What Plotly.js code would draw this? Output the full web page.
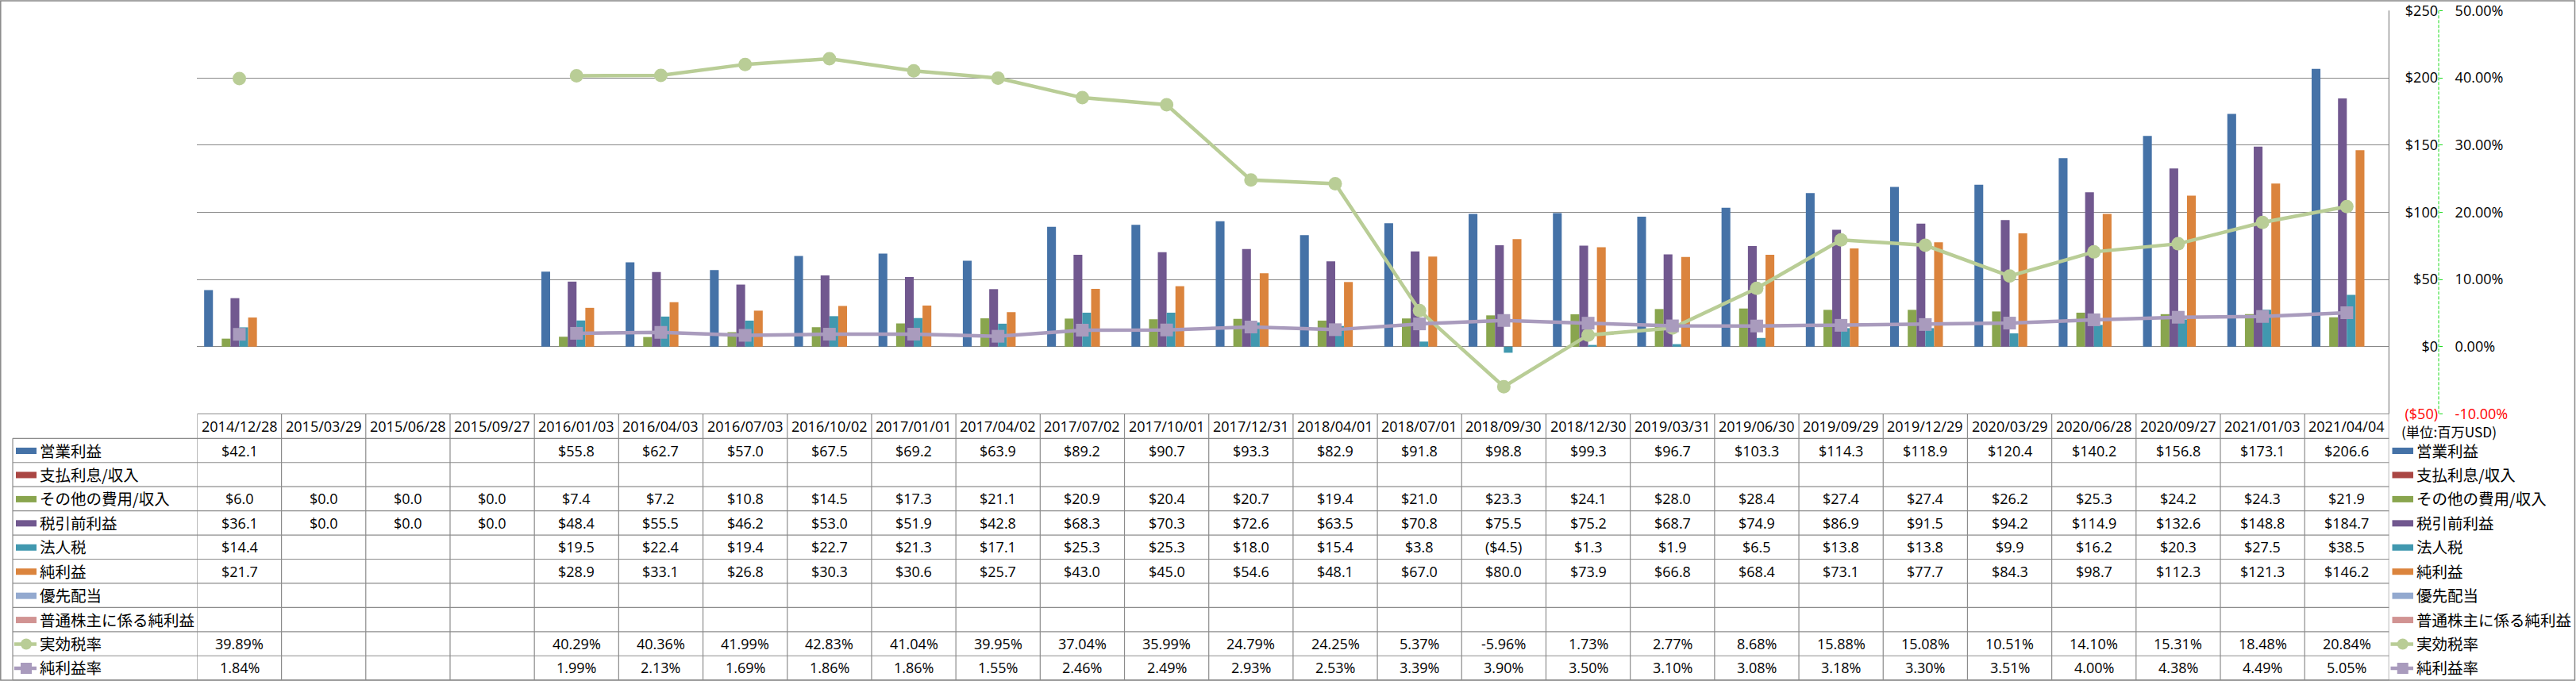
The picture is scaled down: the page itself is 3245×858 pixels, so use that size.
<!DOCTYPE html>
<html>
<head>
<meta charset="utf-8">
<script src="https://cdn.plot.ly/plotly-3.0.1.min.js"></script>
<style>
html,body{margin:0;padding:0;background:#ffffff;}
#chart{width:3245px;height:858px;}
</style>
</head>
<body>
<div id="chart"></div>
<script>
// ---------------- DATA ----------------
const dates = ['2014/12/28','2015/03/29','2015/06/28','2015/09/27','2016/01/03','2016/04/03','2016/07/03','2016/10/02','2017/01/01','2017/04/02','2017/07/02','2017/10/01','2017/12/31','2018/04/01','2018/07/01','2018/09/30','2018/12/30','2019/03/31','2019/06/30','2019/09/29','2019/12/29','2020/03/29','2020/06/28','2020/09/27','2021/01/03','2021/04/04'];

const seriesNames = ['営業利益','支払利息/収入','その他の費用/収入','税引前利益','法人税','純利益','優先配当','普通株主に係る純利益','実効税率','純利益率'];

const operatingIncome = [42.1,null,null,null,55.8,62.7,57.0,67.5,69.2,63.9,89.2,90.7,93.3,82.9,91.8,98.8,99.3,96.7,103.3,114.3,118.9,120.4,140.2,156.8,173.1,206.6];
const interestExpense = [null,null,null,null,null,null,null,null,null,null,null,null,null,null,null,null,null,null,null,null,null,null,null,null,null,null];
const otherExpense = [6.0,0.0,0.0,0.0,7.4,7.2,10.8,14.5,17.3,21.1,20.9,20.4,20.7,19.4,21.0,23.3,24.1,28.0,28.4,27.4,27.4,26.2,25.3,24.2,24.3,21.9];
const pretaxIncome = [36.1,0.0,0.0,0.0,48.4,55.5,46.2,53.0,51.9,42.8,68.3,70.3,72.6,63.5,70.8,75.5,75.2,68.7,74.9,86.9,91.5,94.2,114.9,132.6,148.8,184.7];
const incomeTax = [14.4,null,null,null,19.5,22.4,19.4,22.7,21.3,17.1,25.3,25.3,18.0,15.4,3.8,-4.5,1.3,1.9,6.5,13.8,13.8,9.9,16.2,20.3,27.5,38.5];
const netIncome = [21.7,null,null,null,28.9,33.1,26.8,30.3,30.6,25.7,43.0,45.0,54.6,48.1,67.0,80.0,73.9,66.8,68.4,73.1,77.7,84.3,98.7,112.3,121.3,146.2];
const preferredDividend = [null,null,null,null,null,null,null,null,null,null,null,null,null,null,null,null,null,null,null,null,null,null,null,null,null,null];
const netIncomeCommon = [null,null,null,null,null,null,null,null,null,null,null,null,null,null,null,null,null,null,null,null,null,null,null,null,null,null];
const effectiveTaxRate = [0.3989,null,null,null,0.4029,0.4036,0.4199,0.4283,0.4104,0.3995,0.3704,0.3599,0.2479,0.2425,0.0537,-0.0596,0.0173,0.0277,0.0868,0.1588,0.1508,0.1051,0.1410,0.1531,0.1848,0.2084];
const netMargin = [0.0184,null,null,null,0.0199,0.0213,0.0169,0.0186,0.0186,0.0155,0.0246,0.0249,0.0293,0.0253,0.0339,0.0390,0.0350,0.0310,0.0308,0.0318,0.0330,0.0351,0.0400,0.0438,0.0449,0.0505];

const usdTicks = [-50,0,50,100,150,200,250];
const pctTicks = [-0.1,0,0.1,0.2,0.3,0.4,0.5];
const unitLabel = '(単位:百万USD)';

// ---------------- STYLE ----------------
const colors = ['#4572A7','#AA4643','#89A54E','#71588F','#4198AF','#DB843D','#93A9CF','#D19392','#B9CD96','#A99BBD'];
const W = 3245, H = 858;
const plotL = 248.4, plotR = 3009.4, plotT = 13.3, plotB = 521.5;
const headTop = 521.5, rowTop = 552.3, rowH = 30.44, nRows = 10;
const axisX = 3072;
const gridC = '#878787', tableC = '#8c8c8c';
const latin = 'Open Sans, Noto Sans CJK JP, sans-serif';
const cjk = 'Noto Sans CJK JP, sans-serif';
const px = p => p / W;
const py = p => 1 - p / H;
const cjkSize = 19.5, unitSize = 17.3, latinSize = 18;

const barSeries = [operatingIncome, interestExpense, otherExpense, pretaxIncome, incomeTax, netIncome, preferredDividend, netIncomeCommon];

function fmtUsd(v){ return v < 0 ? '($' + Math.abs(v).toFixed(1) + ')' : '$' + v.toFixed(1); }
function fmtUsdTick(v){ return v < 0 ? '<span style="color:#ff0000">($' + Math.abs(v) + ')</span>' : '$' + v; }
function fmtPct(v){ return (v*100).toFixed(2) + '%'; }
function fmtPctTick(v){ const s = (v*100).toFixed(2) + '%'; return v < 0 ? '<span style="color:#ff0000">' + s + '</span>' : s; }

// ---------------- TRACES ----------------
const traces = [];
barSeries.forEach((arr, i) => {
  traces.push({type:'bar', x:dates, y:arr, name:seriesNames[i], marker:{color:colors[i], line:{width:0}}, xaxis:'x', yaxis:'y'});
});
traces.push({type:'scatter', mode:'lines+markers', x:dates, y:effectiveTaxRate, name:seriesNames[8], yaxis:'y2', connectgaps:false,
  line:{color:colors[8], width:4.5}, marker:{symbol:'circle', size:17, color:colors[8]}});
traces.push({type:'scatter', mode:'lines+markers', x:dates, y:netMargin, name:seriesNames[9], yaxis:'y2', connectgaps:false,
  line:{color:colors[9], width:4.5}, marker:{symbol:'square', size:16, color:colors[9]}});

// ---------------- TABLE (shapes + annotations) ----------------
const shapes = [];
const annotations = [];
shapes.push({type:'rect', xref:'paper', yref:'paper', x0:px(0.8), x1:px(3243.5), y0:py(857), y1:py(1), line:{color:gridC, width:1.5}});
shapes.push({type:'line', xref:'paper', yref:'paper', x0:px(plotR), x1:px(plotR), y0:py(plotT), y1:py(headTop), line:{color:gridC, width:1.2}});
shapes.push({type:'line', xref:'paper', yref:'paper', x0:px(axisX), x1:px(axisX), y0:py(plotT), y1:py(plotB), line:{color:'#1fdc1f', width:1, dash:'4px,2px'}});
shapes.push({type:'line', xref:'x', yref:'paper', x0:-0.5, x1:dates.length-0.5, y0:py(headTop), y1:py(headTop), line:{color:tableC, width:1.2}});
for (let k = 0; k <= nRows; k++) {
  const yy = rowTop + k*rowH;
  shapes.push({type:'line', xref:'paper', yref:'paper', x0:px(16), x1:px(plotR), y0:py(yy), y1:py(yy), line:{color:tableC, width:1.2}});
}
shapes.push({type:'line', xref:'paper', yref:'paper', x0:px(16), x1:px(16), y0:py(rowTop), y1:py(rowTop+nRows*rowH), line:{color:tableC, width:1.2}});
for (let i = 0; i <= dates.length; i++) {
  shapes.push({type:'line', xref:'x', yref:'paper', x0:i-0.5, x1:i-0.5, y0:py(headTop), y1:py(rowTop+nRows*rowH), line:{color:tableC, width:1.2}});
}
dates.forEach(d => {
  annotations.push({xref:'x', yref:'paper', x:d, y:py(537), text:d, showarrow:false, xanchor:'center', yanchor:'middle',
    font:{family:latin, size:latinSize, color:'#000'}});
});
const rowData = [operatingIncome, interestExpense, otherExpense, pretaxIncome, incomeTax, netIncome, preferredDividend, netIncomeCommon, effectiveTaxRate, netMargin];
rowData.forEach((arr, r) => {
  const yc = rowTop + (r+0.5)*rowH;
  arr.forEach((v, i) => {
    if (v === null) return;
    annotations.push({xref:'x', yref:'paper', x:dates[i], y:py(yc), text: r >= 8 ? fmtPct(v) : fmtUsd(v), showarrow:false,
      xanchor:'center', yanchor:'middle', font:{family:latin, size:latinSize, color:'#000'}});
  });
});
function addKey(r, xKey0, xKey1, xText) {
  const yc = rowTop + (r+0.5)*rowH + 0.5;
  if (r < 8) {
    shapes.push({type:'rect', xref:'paper', yref:'paper', x0:px(xKey0), x1:px(xKey1), y0:py(yc+4), y1:py(yc-4), fillcolor:colors[r], line:{width:0}});
  } else {
    shapes.push({type:'line', xref:'paper', yref:'paper', x0:px(xKey0-2), x1:px(xKey1), y0:py(yc), y1:py(yc), line:{color:colors[r], width:4.5}});
    const cx = (xKey0 + xKey1)/2, rr = 7;
    shapes.push({type: r === 8 ? 'circle' : 'rect', xref:'paper', yref:'paper', x0:px(cx-rr), x1:px(cx+rr), y0:py(yc+rr), y1:py(yc-rr), fillcolor:colors[r], line:{width:0}});
  }
  annotations.push({xref:'paper', yref:'paper', x:px(xText), y:py(yc-1), text:seriesNames[r], showarrow:false, xanchor:'left', yanchor:'middle',
    font:{family:cjk, size:cjkSize, color:'#000'}});
}
for (let r = 0; r < nRows; r++) {
  addKey(r, 20, 46, 48);
  addKey(r, 3013.5, 3040, 3042);
}
annotations.push({xref:'paper', yref:'paper', x:px(3023), y:py(543), text:unitLabel, showarrow:false, xanchor:'left', yanchor:'middle',
  font:{family:cjk, size:unitSize, color:'#000'}});

// ---------------- LAYOUT ----------------
const layout = {
  width: W, height: H,
  margin:{l:0, r:0, t:0, b:0, pad:0},
  paper_bgcolor:'#ffffff', plot_bgcolor:'#ffffff',
  showlegend:false,
  barmode:'group', bargap:0.165, bargroupgap:0,
  xaxis:{domain:[px(plotL), px(plotR)], type:'category', range:[-0.5, dates.length-0.5], showticklabels:false,
    showgrid:false, zeroline:false, showline:false, ticks:'', fixedrange:true},
  yaxis:{domain:[py(plotB), py(plotT)], range:[-50,250], tickmode:'array', tickvals:usdTicks, ticktext:usdTicks.map(fmtUsdTick),
    side:'left', anchor:'free', position:px(axisX-1), showgrid:true, gridcolor:gridC, gridwidth:1, zeroline:false, showline:false, ticks:'',
    tickfont:{family:latin, size:18, color:'#000'}, fixedrange:true},
  yaxis2:{overlaying:'y', side:'right', anchor:'free', position:px(axisX), range:[-0.1,0.5], tickmode:'array', tickvals:pctTicks,
    ticktext:pctTicks.map(fmtPctTick), ticks:'outside', ticklen:4, tickwidth:1, tickcolor:'#1fdc1f', showgrid:false, zeroline:false,
    showline:false, ticklabelstandoff:12, tickfont:{family:latin, size:18, color:'#000'}, fixedrange:true},
  shapes: shapes,
  annotations: annotations
};

Plotly.newPlot('chart', traces, layout, {staticPlot:true, displayModeBar:false});
</script>
</body>
</html>
